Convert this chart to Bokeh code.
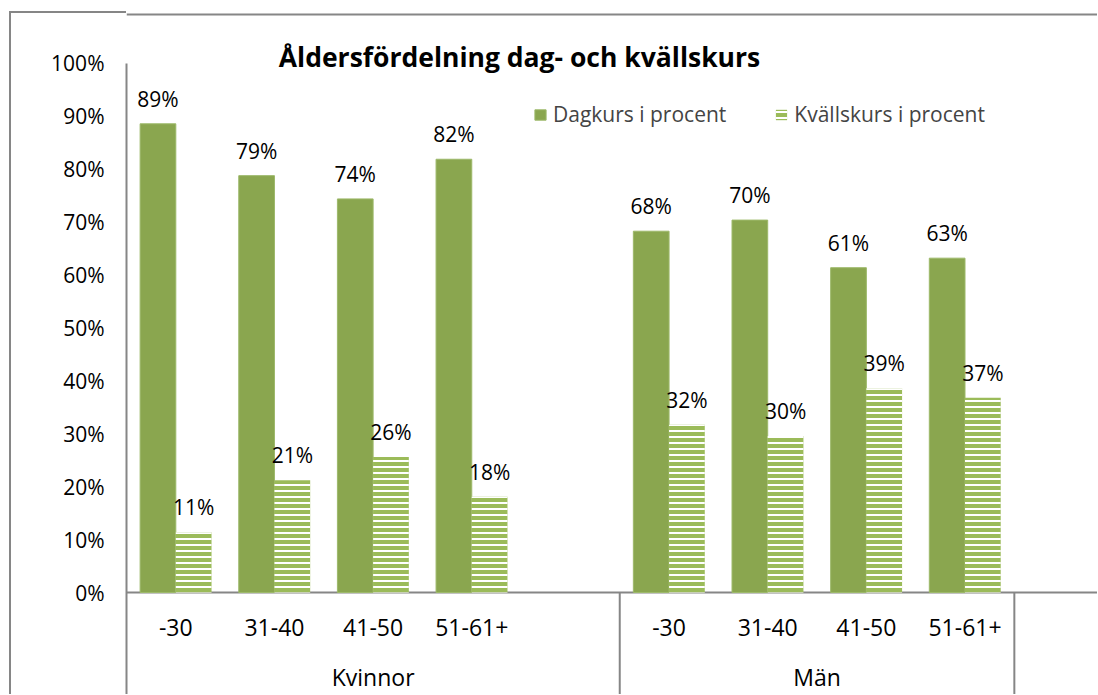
from bokeh.plotting import figure
from bokeh.layouts import column, row
from bokeh.models import Range1d, FixedTicker, Legend, LegendItem, Label, ColumnDataSource, Spacer
from bokeh.core.properties import value
from bokeh.embed import file_html
from bokeh.resources import INLINE

# ---- data ----
groups = ["Kvinnor", "Män"]
ages = ["-30", "31-40", "41-50", "51-61+"]
dag_kvinnor = [88.6, 78.8, 74.4, 81.9]
kvall_kvinnor = [11.4, 21.2, 25.6, 18.1]
dag_man = [68.3, 70.4, 61.4, 63.2]
kvall_man = [31.7, 29.6, 38.6, 36.8]
y_ticks = [0, 10, 20, 30, 40, 50, 60, 70, 80, 90, 100]
title_text = "Åldersfördelning dag- och kvällskurs"
series_names = ["Dagkurs i procent", "Kvällskurs i procent"]

# ---- layout constants ----
FONT = "Open Sans"
AXIS_COL = "#868686"
DAG_COL = "#8AA64F"
KVALL_COL = "#9BBB59"
SLOTS_PER_GROUP = 5          # Excel leaves one empty slot after each group
BAR_W = 0.362
Y_BOTTOM = -19.28
Y_TOP = 109.45
X_END = 9.843
W, H = 1086, 681
LEFT_BORDER = 115

slots, dag, kvall = [], [], []
for gi, (dv, kv) in enumerate([(dag_kvinnor, kvall_kvinnor), (dag_man, kvall_man)]):
    for ai in range(len(ages)):
        slots.append(gi * SLOTS_PER_GROUP + ai)
        dag.append(dv[ai])
        kvall.append(kv[ai])

src = ColumnDataSource(dict(
    x_dag=[s + 0.5 - BAR_W / 2 for s in slots],
    x_kv=[s + 0.5 + BAR_W / 2 for s in slots],
    dag=dag, kvall=kvall,
    dag_lab=[f"{round(v)}%" for v in dag],
    kv_lab=[f"{round(v)}%" for v in kvall],
))

p = figure(width=W, height=H, output_backend="svg", toolbar_location=None,
           x_range=Range1d(0, X_END), y_range=Range1d(Y_BOTTOM, Y_TOP),
           x_axis_location=None, y_axis_location="left",
           min_border_left=LEFT_BORDER, min_border_top=0, min_border_right=0, min_border_bottom=0,
           background_fill_color="white", border_fill_color="white")
p.outline_line_color = None
p.grid.visible = False

ax = p.yaxis[0]
ax.ticker = FixedTicker(ticks=y_ticks)
ax.bounds = (Y_BOTTOM, 100)
ax.major_label_overrides = {t: f"{t}%" for t in y_ticks}
ax.axis_line_color = AXIS_COL
ax.axis_line_width = 2
ax.major_tick_line_color = None
ax.minor_tick_line_color = None
ax.major_tick_out = 0
ax.major_label_standoff = 22
ax.major_label_text_font = FONT
ax.major_label_text_font_size = "21px"
ax.major_label_text_color = "black"

# x axis line
p.segment(x0=[0], y0=[0], x1=[X_END], y1=[0], line_color=AXIS_COL, line_width=2)
# chart-area top border over the plot region
p.segment(x0=[0], y0=[Y_TOP], x1=[X_END], y1=[Y_TOP], line_color=AXIS_COL, line_width=4)

r_dag = p.vbar(x="x_dag", top="dag", width=BAR_W, bottom=0, source=src,
               fill_color=DAG_COL, line_color="#9DB96A", line_width=1)
r_kv = p.vbar(x="x_kv", top="kvall", width=BAR_W, bottom=0, source=src,
              fill_color=KVALL_COL, line_color=None,
              hatch_pattern="horizontal_line", hatch_color="white",
              hatch_weight=2, hatch_scale=6)

p.text(x="x_dag", y="dag", text="dag_lab", source=src, text_font=value(FONT),
       text_font_size="21px", text_align="center", text_baseline="middle",
       y_offset=-25, text_color="black")
p.text(x="x_kv", y="kvall", text="kv_lab", source=src, text_font=value(FONT),
       text_font_size="21px", text_align="center", text_baseline="middle",
       y_offset=-25, text_color="black")

# category labels
cat_x = [s + 0.5 for s in slots]
cat_t = [ages[i % len(ages)] for i in range(len(slots))]
p.text(x=cat_x, y=[-6.56] * len(cat_x), text=cat_t, text_font=value(FONT),
       text_font_size="23px", text_align="center", text_baseline="middle", text_color="black")
grp_x = [gi * SLOTS_PER_GROUP + (SLOTS_PER_GROUP if gi == 0 else len(ages)) / 2 for gi in range(len(groups))]
p.text(x=grp_x, y=[-16.0] * len(groups), text=groups, text_font=value(FONT),
       text_font_size="23px", text_align="center", text_baseline="middle", text_color="black")

# group separators
sep_x = [SLOTS_PER_GROUP, SLOTS_PER_GROUP + len(ages)]
p.segment(x0=sep_x, y0=[0, 0], x1=sep_x, y1=[Y_BOTTOM, Y_BOTTOM], line_color=AXIS_COL, line_width=2)

# title
p.add_layout(Label(x=3.984, y=101.2, text=title_text, text_font=FONT, text_font_size="26.5px",
                   text_font_style="bold", text_align="center", text_baseline="alphabetic",
                   text_color="black"))

legend = Legend(items=[LegendItem(label=series_names[0], renderers=[r_dag]),
                       LegendItem(label=series_names[1], renderers=[r_kv])],
                location=(407, 566), orientation="horizontal",
                label_text_font=FONT, label_text_font_size="21px",
                glyph_width=14, glyph_height=13, label_standoff=6, spacing=48,
                padding=0, margin=0, border_line_color=None, background_fill_alpha=0)
p.add_layout(legend)

# chart-area border: left edge and the top edge above the axis labels
top_line = Spacer(width=LEFT_BORDER + 2, height=2, styles={"background-color": AXIS_COL})
left_line = Spacer(width=2, height=H, styles={"background-color": AXIS_COL})
layout = column(top_line, row(left_line, p, spacing=0), spacing=0)
layout.margin = (11, 0, 0, 9)

open("out.html", "w").write(file_html(layout, INLINE))
